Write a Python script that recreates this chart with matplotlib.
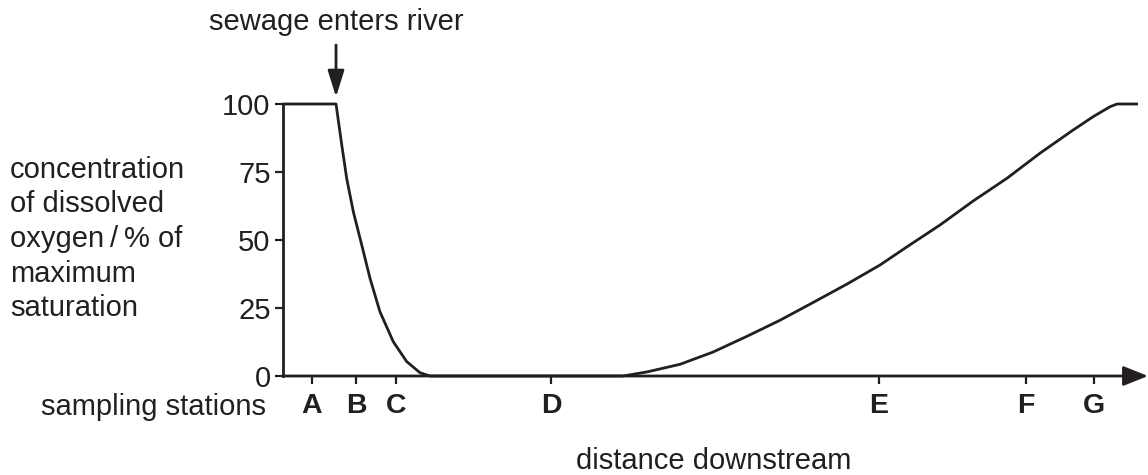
import matplotlib
matplotlib.use("Agg")
import matplotlib.pyplot as plt

plt.rcParams['font.family'] = ['Liberation Sans', 'DejaVu Sans']
INK = '#231f20'

# distance downstream (arbitrary units, 0 = y axis, 100 = arrow end)
distance = [0.0, 6.13, 6.79, 7.36, 8.13, 9.10, 10.06, 11.21, 12.75, 14.30, 15.84,
            16.99, 39.31, 42.08, 45.90, 49.71, 53.64, 57.46, 61.27, 65.20, 69.02,
            72.14, 75.95, 79.77, 83.70, 87.51, 91.33, 93.64, 95.61, 96.42, 98.84]
oxygen = [100, 100, 85, 72.7, 60.4, 48.2, 35.9, 23.6, 12.6, 5.3, 1.2,
          0, 0, 1.5, 4.3, 8.8, 14.6, 20.5, 27, 33.8, 40.8,
          47.5, 55.5, 64.3, 72.7, 81.9, 90.4, 95.3, 99, 100, 100]

stations = ['A', 'B', 'C', 'D', 'E', 'F', 'G']
station_pos = [3.35, 8.44, 13.06, 30.98, 68.90, 85.90, 93.76]
y_ticks = [0, 25, 50, 75, 100]
sewage_x = 6.13

W, H = 1148, 475
fig = plt.figure(figsize=(W / 100, H / 100), dpi=100)
ax = fig.add_axes([283 / W, (H - 376) / H, 865 / W, 272 / H])
ax.set_xlim(0, 100)
ax.set_ylim(0, 100)

ax.plot(distance, oxygen, color=INK, lw=2.0, clip_on=False,
        solid_capstyle='butt', solid_joinstyle='round')

for s in ['top', 'right', 'bottom']:
    ax.spines[s].set_visible(False)
ax.spines['left'].set_linewidth(2.0)
ax.spines['left'].set_color(INK)

# x axis arrow
ax.annotate('', xy=(100, 0), xytext=(0, 0), xycoords='data',
            arrowprops=dict(arrowstyle='-|>,head_length=0.75,head_width=0.3',
                            mutation_scale=20, lw=2.0, color=INK,
                            shrinkA=0, shrinkB=0), annotation_clip=False)

ax.set_yticks(y_ticks)
ax.set_yticklabels([str(v) for v in y_ticks], fontsize=21, color=INK)
ax.tick_params(axis='y', length=6, width=1.6, color=INK, pad=3)

ax.set_xticks(station_pos)
ax.set_xticklabels(stations, fontsize=20.5, fontweight='bold', color=INK)
ax.tick_params(axis='x', length=6, width=1.6, color=INK, pad=6)

# sewage arrow
ax.annotate('', xy=(sewage_x, 102.6), xytext=(sewage_x, 121.7),
            arrowprops=dict(arrowstyle='-|>,head_length=0.8,head_width=0.25',
                            mutation_scale=20, lw=2.0, color=INK,
                            shrinkA=0, shrinkB=0), annotation_clip=False)

def ftext(x, y, s, **kw):
    fig.text(x / W, 1 - y / H, s, color=INK, **kw)

ftext(336, 22, 'sewage enters river', fontsize=21, ha='center', va='center')
ylab = ['concentration', 'of dissolved', 'oxygen\u2009/\u2009% of', 'maximum', 'saturation']
for i, line in enumerate(ylab):
    ftext(10, 170 + i * 34.5, line, fontsize=21, ha='left', va='center',
          family=['Liberation Sans', 'DejaVu Sans'])
ftext(266, 407, 'sampling stations', fontsize=21, ha='right', va='center')
ftext(714, 461, 'distance downstream', fontsize=21, ha='center', va='center')

fig.savefig('out.png', dpi=100)
